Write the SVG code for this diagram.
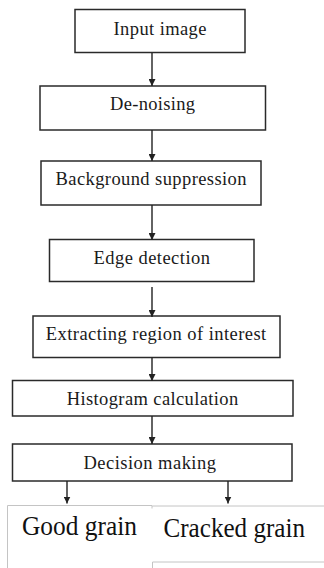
<svg xmlns="http://www.w3.org/2000/svg" width="324" height="568" viewBox="0 0 324 568">
<style>
.box{fill:#fff;stroke:#2a2a2a;stroke-width:1.5}
.lbl{font-family:"Liberation Serif","Times New Roman",serif;font-size:18.5px;fill:#1a1a1a;text-anchor:middle}
.big{font-family:"Liberation Serif","Times New Roman",serif;font-size:27px;fill:#111}
.conn{stroke:#222;stroke-width:1.4;fill:none}
.tb{fill:none;stroke:#c4c4c4;stroke-width:1}
</style>
<defs>
<marker id="ah" viewBox="0 0 10 10" refX="10" refY="5" markerWidth="7" markerHeight="7" markerUnits="userSpaceOnUse" orient="auto">
<path d="M0,0 L10,5 L0,10 z" fill="#222"/>
</marker>
</defs>
<rect width="324" height="568" fill="#fff"/>
<g id="n1"><rect class="box" x="75" y="9.5" width="170" height="43"/><text class="lbl" x="160" y="35" textLength="93" lengthAdjust="spacing">Input image</text></g>
<g id="n2"><rect class="box" x="40" y="86" width="225.5" height="44"/><text class="lbl" x="152.5" y="110" textLength="85" lengthAdjust="spacing">De-noising</text></g>
<g id="n3"><rect class="box" x="41" y="161" width="220" height="44"/><text class="lbl" x="151" y="185" textLength="191" lengthAdjust="spacing">Background suppression</text></g>
<g id="n4"><rect class="box" x="49.5" y="239.5" width="204.5" height="42"/><text class="lbl" x="151.7" y="263.5" textLength="116.5" lengthAdjust="spacing">Edge detection</text></g>
<g id="n5"><rect class="box" x="33" y="316" width="247" height="41.5"/><text class="lbl" x="156" y="340" textLength="220.5" lengthAdjust="spacing">Extracting region of interest</text></g>
<g id="n6"><rect class="box" x="12.5" y="380.5" width="280.5" height="35.5"/><text class="lbl" x="152.5" y="405" textLength="171.5" lengthAdjust="spacing">Histogram calculation</text></g>
<g id="n7"><rect class="box" x="12.5" y="444" width="279.5" height="37"/><text class="lbl" x="149.7" y="468.5" textLength="132.5" lengthAdjust="spacing">Decision making</text></g>
<g id="n8"><path class="tb" d="M7.5,568 V505.5 H152"/><text class="big" x="22" y="535" textLength="115" lengthAdjust="spacingAndGlyphs">Good grain</text></g>
<g id="n9"><path class="tb" d="M152,508.5 V506 H324"/><path class="tb" d="M152.5,568 V562 H324"/><text class="big" x="163.5" y="537" textLength="141.5" lengthAdjust="spacingAndGlyphs">Cracked grain</text></g>
<g id="connectors">
<line class="conn" x1="152" y1="53" x2="152" y2="86" marker-end="url(#ah)"/>
<line class="conn" x1="152" y1="130" x2="152" y2="161" marker-end="url(#ah)"/>
<line class="conn" x1="152" y1="205" x2="152" y2="240" marker-end="url(#ah)"/>
<line class="conn" x1="152" y1="287" x2="152" y2="317" marker-end="url(#ah)"/>
<line class="conn" x1="152" y1="357.5" x2="152" y2="381" marker-end="url(#ah)"/>
<line class="conn" x1="152" y1="416" x2="152" y2="444" marker-end="url(#ah)"/>
<line class="conn" x1="67" y1="481" x2="67" y2="503.5" marker-end="url(#ah)"/>
<line class="conn" x1="228" y1="481" x2="228" y2="503.5" marker-end="url(#ah)"/>
</g>
</svg>
